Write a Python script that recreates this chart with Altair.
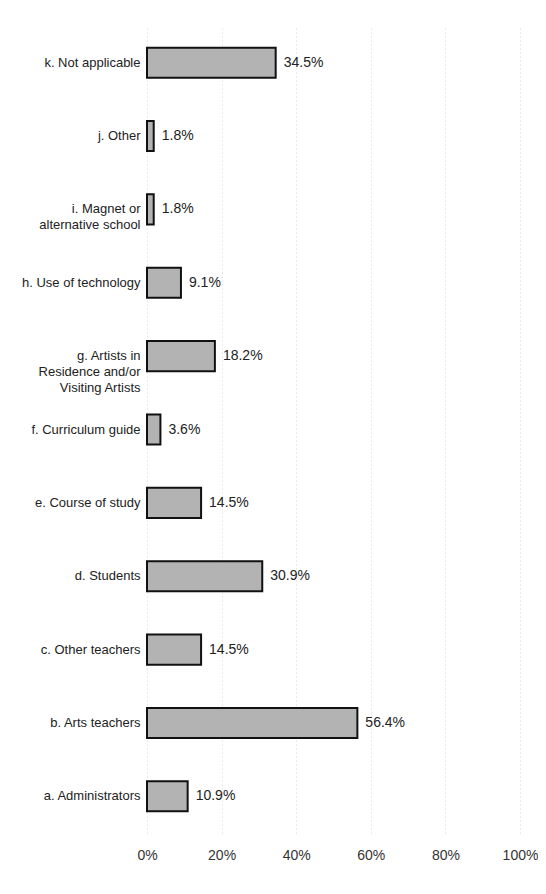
import altair as alt
import pandas as pd

categories = [
    "a. Administrators",
    "b. Arts teachers",
    "c. Other teachers",
    "d. Students",
    "e. Course of study",
    "f. Curriculum  guide",
    "g. Artists in|Residence and/or|Visiting Artists",
    "h. Use of technology",
    "i. Magnet or|alternative school",
    "j. Other",
    "k. Not applicable",
]
values = [10.9, 56.4, 14.5, 30.9, 14.5, 3.6, 18.2, 9.1, 1.8, 1.8, 34.5]
tick_values = [0, 20, 40, 60, 80, 100]

df = pd.DataFrame({"cat": categories, "val": values})
df["label"] = [f"{v:.1f}%" for v in values]

order = categories[::-1]
FONT = "Liberation Sans"

y_enc = alt.Y(
    "cat:N",
    sort=order,
    title=None,
    scale=alt.Scale(paddingInner=0.59, paddingOuter=0.295),
    axis=alt.Axis(
        domain=False,
        ticks=False,
        grid=False,
        labelPadding=7,
        labelFont=FONT,
        labelFontSize=13,
        labelColor="#222",
        labelLimit=200,
        labelLineHeight=16,
        labelExpr="split(datum.label, '|')",
    ),
)

x_enc = alt.X(
    "val:Q",
    title=None,
    scale=alt.Scale(domain=[0, 100], nice=False),
    axis=alt.Axis(
        values=tick_values,
        labelExpr="datum.value + '%'",
        labelFlush=False,
        domain=False,
        ticks=False,
        labelPadding=15,
        labelFont=FONT,
        labelFontSize=14,
        labelColor="#333",
        grid=True,
        gridColor="#d4d4d4",
        gridDash=[1, 3],
        gridWidth=1,
    ),
)

bars = alt.Chart(df).mark_bar(
    fill="#b3b3b3", stroke="#111", strokeWidth=2
).encode(x=x_enc, y=y_enc)

text = alt.Chart(df).mark_text(
    align="left", baseline="middle", dx=8, font=FONT, fontSize=14, color="#222"
).encode(x=x_enc, y=y_enc, text="label:N")

chart = (
    alt.layer(bars, text)
    .properties(
        width=373,
        height=807,
        padding={"left": 13, "top": 18, "right": 0, "bottom": 5},
    )
    .configure(background="white")
    .configure_view(stroke="transparent", strokeWidth=0)
)

chart.save("out.html", embed_options={"renderer": "svg", "actions": False})
